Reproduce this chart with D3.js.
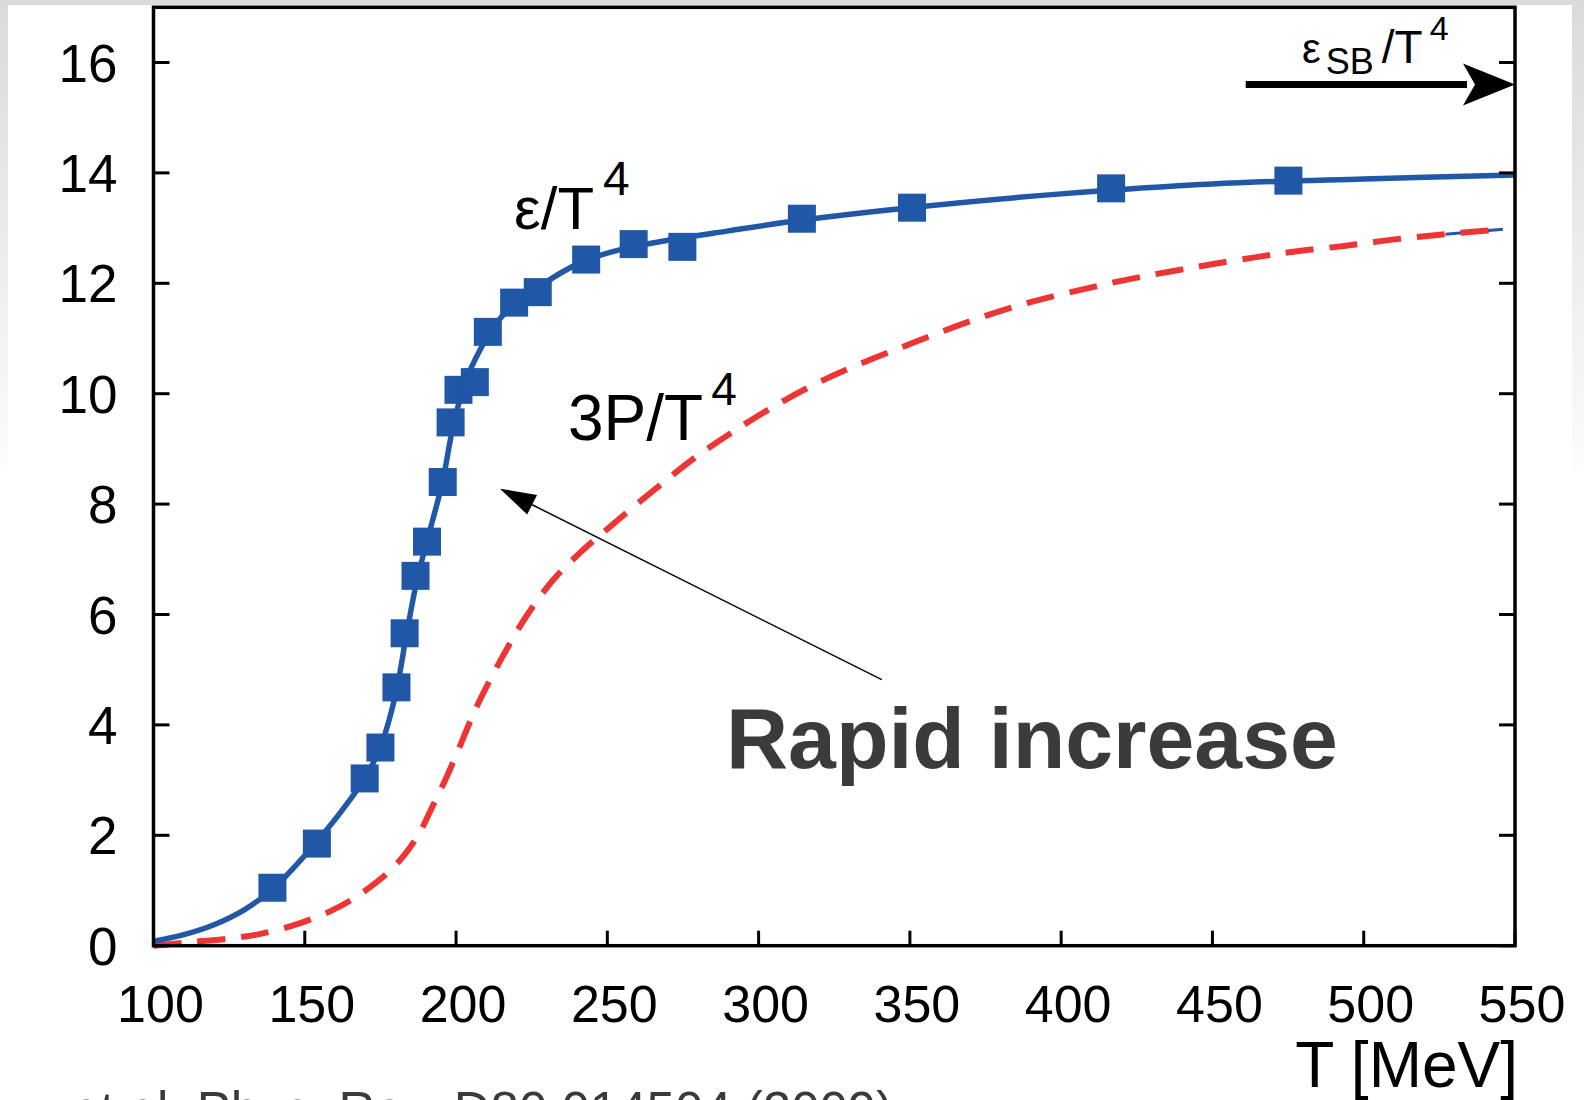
<!DOCTYPE html>
<html>
<head>
<meta charset="utf-8">
<script src="https://cdn.jsdelivr.net/npm/d3@7"></script>
<style>
  html, body { margin: 0; padding: 0; background: #fff; }
  svg { display: block; }
  text { font-family: "Liberation Sans", Arial, Helvetica, sans-serif; }
</style>
</head>
<body>
<svg id="chart" width="1584" height="1100"></svg>
<script>
// Lattice points for the energy density, epsilon / T^4
const latticeT = [139.3, 154.0, 169.8, 175.0, 180.3, 183.0, 186.6, 190.4, 195.6, 198.2, 200.8, 206.2,
                  210.5, 219.2, 227.0, 243.0, 258.7, 274.8, 314.3, 350.7, 416.5, 475.1];
const latticeE = [1.05, 1.85, 3.03, 3.59, 4.68, 5.66, 6.70, 7.32, 8.40, 9.48, 10.07, 10.21,
                  11.12, 11.65, 11.84, 12.43, 12.71, 12.66, 13.17, 13.37, 13.72, 13.86];

// Smooth fit through the energy density
const fitT = [100, 110, 120, 130, 139.5, 147, 155, 163, 170, 175, 180, 183.5, 187, 191, 195.5, 199,
              203, 208, 213, 219, 227, 235, 243, 255, 270, 290, 315, 350, 400, 450, 500, 550];
const fitE = [0.08, 0.2, 0.38, 0.65, 1.03, 1.45, 1.95, 2.5, 3.05, 3.6, 4.55, 5.6, 6.6, 7.45, 8.4, 9.4,
              10.2, 10.8, 11.25, 11.62, 11.92, 12.2, 12.42, 12.62, 12.78, 12.95, 13.15, 13.37, 13.62, 13.8, 13.89, 13.96];

// Pressure curve, 3P / T^4
const pressT = [100, 111, 125, 135, 148, 159, 166, 172, 178, 183, 188, 192, 196, 200, 207, 215, 223,
                232, 241, 250, 266, 283, 316, 350, 383, 416, 445, 464, 478, 494, 511, 527, 546];
const pressP = [0, 0.06, 0.13, 0.21, 0.4, 0.64, 0.85, 1.08, 1.35, 1.65, 2.05, 2.5, 2.95, 3.45, 4.35, 5.2, 5.95,
                6.62, 7.12, 7.55, 8.28, 9.0, 10.1, 10.9, 11.55, 12.0, 12.3, 12.47, 12.58, 12.68, 12.8, 12.89, 12.98];

// Axis ticks
const xTicks = [100, 150, 200, 250, 300, 350, 400, 450, 500, 550];
const yTicks = [0, 2, 4, 6, 8, 10, 12, 14, 16];

// Stefan-Boltzmann limit arrow (T range and level)
const sbArrowT = [461, 550];
const sbLevel = 15.6;

// "Rapid increase" pointer: tail and tip in data units
const pointerT = [340.7, 214.5];
const pointerY = [4.82, 8.28];

const W = 1584, H = 1100;
const plot = { left: 153.5, right: 1515, top: 7.3, bottom: 945.7 };

const svg = d3.select("#chart");
const defs = svg.append("defs");

// page backdrop: grey fading to white, with a white sheet on top
const grad = defs.append("linearGradient").attr("id", "bg").attr("x1", 0).attr("y1", 0).attr("x2", 0).attr("y2", 1);
grad.append("stop").attr("offset", 0).attr("stop-color", "#dadada");
grad.append("stop").attr("offset", 0.42).attr("stop-color", "#fbfbfb");
grad.append("stop").attr("offset", 0.43).attr("stop-color", "#ffffff");
grad.append("stop").attr("offset", 1).attr("stop-color", "#ffffff");
svg.append("rect").attr("width", W).attr("height", H).attr("fill", "url(#bg)");
svg.append("rect").attr("x", 8).attr("y", 5).attr("width", 1564).attr("height", H - 5).attr("fill", "#fff");

const x = d3.scaleLinear().domain([100, 550]).range([plot.left, plot.right]);
const y = d3.scaleLinear().domain([0, 17]).range([plot.bottom, plot.top]);

const BLUE = "#2157a7";
const RED = "#ef3434";

// curves
const line = d3.line().x(d => x(d[0])).y(d => y(d[1])).curve(d3.curveCatmullRom.alpha(0.5));
const pressData = pressT.map((t, i) => [t, pressP[i]]);
const fitData = fitT.map((t, i) => [t, fitE[i]]);

// short blue trace beneath the end of the dashed curve
svg.append("path")
  .datum(pressData.filter(d => d[0] >= 527))
  .attr("d", line).attr("fill", "none").attr("stroke", BLUE).attr("stroke-width", 3);

svg.append("path")
  .datum(pressData)
  .attr("d", line).attr("fill", "none").attr("stroke", RED)
  .attr("stroke-width", 6).attr("stroke-dasharray", "28,16");

svg.append("path")
  .datum(fitData)
  .attr("d", line).attr("fill", "none").attr("stroke", BLUE).attr("stroke-width", 5.5);

// lattice squares
const sq = 28;
svg.append("g").selectAll("rect").data(latticeT.map((t, i) => [t, latticeE[i]])).join("rect")
  .attr("x", d => x(d[0]) - sq / 2).attr("y", d => y(d[1]) - sq / 2)
  .attr("width", sq).attr("height", sq).attr("fill", BLUE);

// frame and ticks
const axisG = svg.append("g").attr("stroke", "#000").attr("stroke-width", 3);
yTicks.forEach(v => {
  axisG.append("line").attr("x1", plot.left).attr("x2", plot.left + 16).attr("y1", y(v)).attr("y2", y(v));
  axisG.append("line").attr("x1", plot.right - 16).attr("x2", plot.right).attr("y1", y(v)).attr("y2", y(v));
});
xTicks.forEach(v => {
  axisG.append("line").attr("x1", x(v)).attr("x2", x(v)).attr("y1", plot.bottom).attr("y2", plot.bottom - 15);
});
svg.append("rect")
  .attr("x", plot.left).attr("y", plot.top)
  .attr("width", plot.right - plot.left).attr("height", plot.bottom - plot.top)
  .attr("fill", "none").attr("stroke", "#000").attr("stroke-width", 3.5);

// tick labels
svg.append("g").selectAll("text").data(yTicks).join("text")
  .attr("x", plot.left - 36).attr("y", d => y(d) + 19)
  .attr("text-anchor", "end").attr("font-size", 53).attr("fill", "#000")
  .text(d => d);
svg.append("g").selectAll("text").data(xTicks).join("text")
  .attr("x", d => x(d) + 7).attr("y", 1022)
  .attr("text-anchor", "middle").attr("font-size", 52).attr("fill", "#000")
  .text(d => d);

svg.append("text").attr("x", 1518).attr("y", 1087).attr("text-anchor", "end")
  .attr("font-size", 64).attr("fill", "#000").text("T [MeV]");

// curve labels
const eLab = svg.append("text").attr("x", 514).attr("y", 229).attr("font-size", 60).attr("fill", "#000");
eLab.append("tspan").text("ε/T");
eLab.append("tspan").attr("dy", -34).attr("dx", 9).attr("font-size", 48).text("4");

const pLab = svg.append("text").attr("x", 568).attr("y", 440).attr("font-size", 64).attr("fill", "#000");
pLab.append("tspan").text("3P/T");
pLab.append("tspan").attr("dy", -35).attr("dx", 8).attr("font-size", 46).text("4");

// Stefan-Boltzmann limit label and arrow
const sbLab = svg.append("text").attr("x", 1302).attr("y", 63).attr("font-size", 42).attr("fill", "#000");
sbLab.append("tspan").text("ε");
sbLab.append("tspan").attr("dy", 11).attr("dx", 5).attr("font-size", 36).text("SB");
sbLab.append("tspan").attr("dy", -11).attr("dx", 8).attr("font-size", 46).text("/T");
sbLab.append("tspan").attr("dy", -23).attr("dx", 7).attr("font-size", 34).text("4");

const sbY = y(sbLevel), sbX0 = x(sbArrowT[0]), sbX1 = x(sbArrowT[1]);
const headLen = 52, headHalf = 21;
svg.append("line").attr("x1", sbX0).attr("x2", sbX1 - headLen + 4).attr("y1", sbY).attr("y2", sbY)
  .attr("stroke", "#000").attr("stroke-width", 7);
svg.append("path")
  .attr("d", `M${sbX1},${sbY} L${sbX1 - headLen},${sbY - headHalf} L${sbX1 - headLen + 12},${sbY} L${sbX1 - headLen},${sbY + headHalf} Z`)
  .attr("fill", "#000");

// pointer toward the steep rise
const px0 = x(pointerT[0]), py0 = y(pointerY[0]), px1 = x(pointerT[1]), py1 = y(pointerY[1]);
const ang = Math.atan2(py1 - py0, px1 - px0);
const hl = 36, hw = 11;
const bx = px1 - hl * Math.cos(ang), by = py1 - hl * Math.sin(ang);
svg.append("line").attr("x1", px0).attr("y1", py0).attr("x2", bx).attr("y2", by)
  .attr("stroke", "#000").attr("stroke-width", 1.5);
svg.append("path")
  .attr("d", `M${px1},${py1} L${bx + hw * Math.sin(ang)},${by - hw * Math.cos(ang)} L${bx - hw * Math.sin(ang)},${by + hw * Math.cos(ang)} Z`)
  .attr("fill", "#000");

svg.append("text").attr("x", 726).attr("y", 768).attr("font-size", 86).attr("font-weight", "bold")
  .attr("fill", "#3b3b3b").text("Rapid increase");

// source line along the bottom edge
svg.append("text").attr("x", 72).attr("y", 1128).attr("font-size", 51).attr("fill", "#3a3a3a")
  .text("et al. Phys. Rev. D80 014504 (2009)");
</script>
</body>
</html>
